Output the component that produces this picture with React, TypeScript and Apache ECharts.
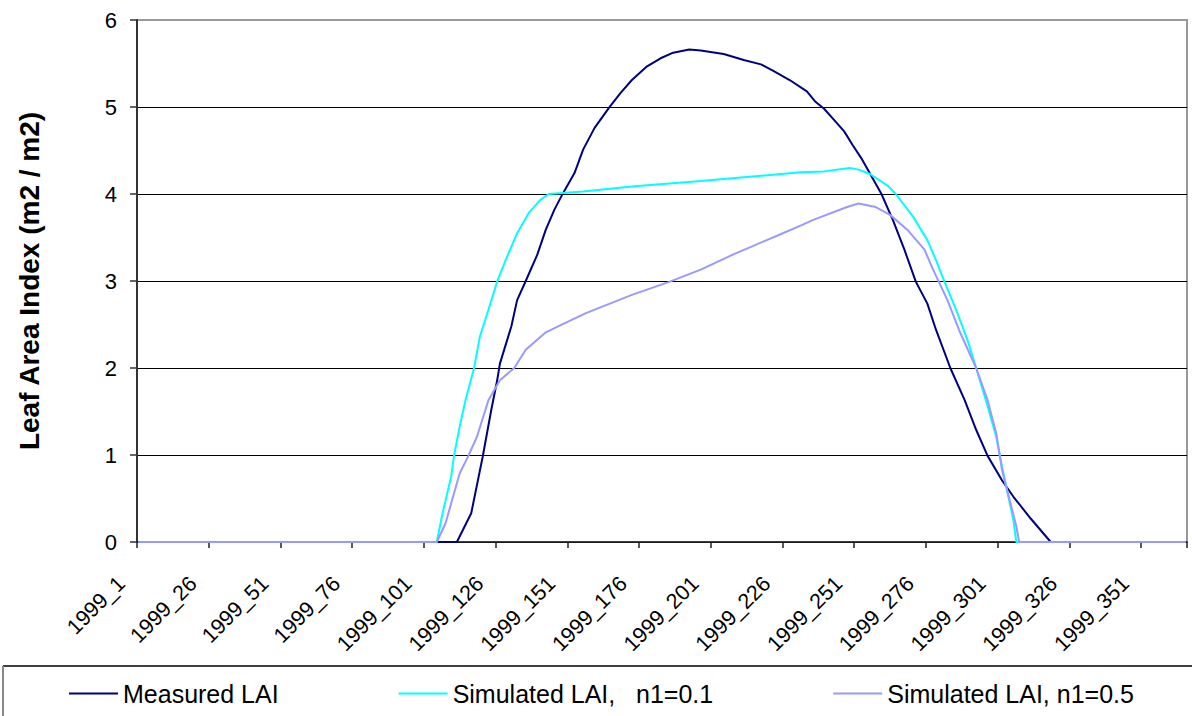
import React, { useEffect, useRef } from "react";
import * as echarts from "echarts";

const FONT = "Liberation Sans, Arial, sans-serif";

const categories: string[] = Array.from({ length: 366 }, (_, i) => `1999_${i + 1}`);

const measuredDays = [1, 112, 117, 121, 124, 126, 127, 131, 133, 136, 140, 143, 146, 149, 153, 156, 160, 165, 169, 173, 178, 183, 187, 193, 197, 205, 212, 218, 222, 228, 234, 237, 240, 243, 247, 250, 253, 260, 264, 268, 272, 276, 279, 284, 289, 293, 297, 302, 306, 312, 319, 366];
const measuredValues = [0, 0, 0.33, 0.98, 1.52, 1.85, 2.05, 2.48, 2.78, 3.0, 3.3, 3.59, 3.82, 4.01, 4.24, 4.51, 4.76, 4.99, 5.16, 5.31, 5.46, 5.56, 5.62, 5.66, 5.65, 5.61, 5.54, 5.49, 5.42, 5.31, 5.18, 5.06, 4.98, 4.87, 4.72, 4.56, 4.41, 4.0, 3.7, 3.36, 2.99, 2.74, 2.44, 2.0, 1.63, 1.29, 0.99, 0.71, 0.52, 0.27, 0, 0];

const sim01Days = [1, 105, 107, 110, 111, 113, 115, 118, 120, 123, 126, 129, 133, 137, 141, 144, 156, 174, 197, 225, 232, 240, 249, 252, 256, 262, 265, 271, 276, 279, 282, 286, 290, 293, 297, 300, 302, 304, 306, 307, 366];
const sim01Values = [0, 0, 0.33, 0.75, 0.99, 1.33, 1.63, 2.0, 2.36, 2.67, 2.99, 3.24, 3.55, 3.78, 3.93, 4.0, 4.03, 4.09, 4.15, 4.23, 4.25, 4.26, 4.3, 4.28, 4.23, 4.1, 4.0, 3.74, 3.47, 3.24, 2.99, 2.67, 2.32, 2.0, 1.56, 1.21, 0.87, 0.56, 0.25, 0, 0];

const sim05Days = [1, 105, 108, 111, 113, 116, 119, 123, 127, 132, 136, 143, 148, 157, 173, 186, 197, 208, 220, 225, 232, 236, 248, 252, 258, 263, 269, 275, 278, 283, 287, 293, 297, 300, 302, 305, 307, 308, 366];
const sim05Values = [0, 0, 0.21, 0.56, 0.79, 0.99, 1.21, 1.63, 1.86, 2.0, 2.21, 2.41, 2.49, 2.63, 2.84, 2.99, 3.13, 3.3, 3.47, 3.54, 3.64, 3.7, 3.85, 3.89, 3.85, 3.76, 3.59, 3.36, 3.13, 2.78, 2.44, 2.0, 1.63, 1.25, 0.83, 0.44, 0.18, 0, 0];

const seriesNames = ["Measured LAI", "Simulated LAI,   n1=0.1", "Simulated LAI, n1=0.5"];
const seriesColors = ["#000080", "#00FFFF", "#9999FF"];

const toPairs = (d: number[], v: number[]) => d.map((day, i) => [day - 1, v[i]]);

export default function App() {
  const ref = useRef<HTMLDivElement>(null);
  useEffect(() => {
    if (!ref.current) return;
    const chart = echarts.init(ref.current, undefined, { renderer: "svg" });
    const data = [
      toPairs(measuredDays, measuredValues),
      toPairs(sim01Days, sim01Values),
      toPairs(sim05Days, sim05Values),
    ];
    chart.setOption({
      animation: false,
      backgroundColor: "#fff",
      textStyle: { fontFamily: FONT },
      grid: {
        left: 137,
        right: 5,
        top: 20,
        bottom: 174,
        show: true,
        borderColor: "#999",
        borderWidth: 2,
        backgroundColor: "transparent",
      },
      xAxis: {
        type: "category",
        data: categories,
        boundaryGap: true,
        axisLine: { show: true, lineStyle: { color: "#222", width: 1.5 } },
        axisTick: { show: true, interval: 24, length: 6, lineStyle: { color: "#222", width: 1.5 } },
        axisLabel: {
          interval: 24,
          rotate: 45,
          margin: 55,
          align: "right",
          verticalAlign: "bottom",
          lineHeight: 48,
          fontSize: 21.5,
          color: "#000",
          fontFamily: FONT,
        },
        splitLine: { show: false },
      },
      yAxis: {
        type: "value",
        min: 0,
        max: 6,
        interval: 1,
        name: "Leaf Area Index (m2 / m2)",
        nameLocation: "middle",
        nameGap: 94,
        nameTextStyle: { fontSize: 28, fontWeight: "bold", color: "#000", fontFamily: FONT },
        axisLine: { show: true, lineStyle: { color: "#333", width: 2 } },
        axisTick: { show: true, length: 7, lineStyle: { color: "#333", width: 1.5 } },
        axisLabel: { margin: 20, fontSize: 22, color: "#000", fontFamily: FONT },
        splitLine: { show: true, showMaxLine: false, lineStyle: { color: "#000", width: 1.2 } },
      },
      legend: {
        left: 64,
        top: 676,
        itemWidth: 49,
        itemHeight: 2,
        itemGap: 120,
        icon: "rect",
        textStyle: { fontSize: 25, color: "#000", fontFamily: FONT },
        data: seriesNames,
      },
      graphic: [
        { type: "line", shape: { x1: 3, y1: 666, x2: 1192, y2: 666 }, style: { stroke: "#000", lineWidth: 1.5 } },
        { type: "line", shape: { x1: 3, y1: 666, x2: 3, y2: 716 }, style: { stroke: "#888", lineWidth: 2 } },
      ],
      series: seriesNames.map((name, i) => ({
        name,
        type: "line",
        data: data[i],
        showSymbol: false,
        symbol: "none",
        lineStyle: { color: seriesColors[i], width: 2 },
        itemStyle: { color: seriesColors[i] },
      })),
    });
    return () => chart.dispose();
  }, []);
  return (
    <div
      ref={ref}
      style={{ position: "fixed", left: 0, top: 0, width: 1192, height: 716, background: "#fff" }}
    />
  );
}
